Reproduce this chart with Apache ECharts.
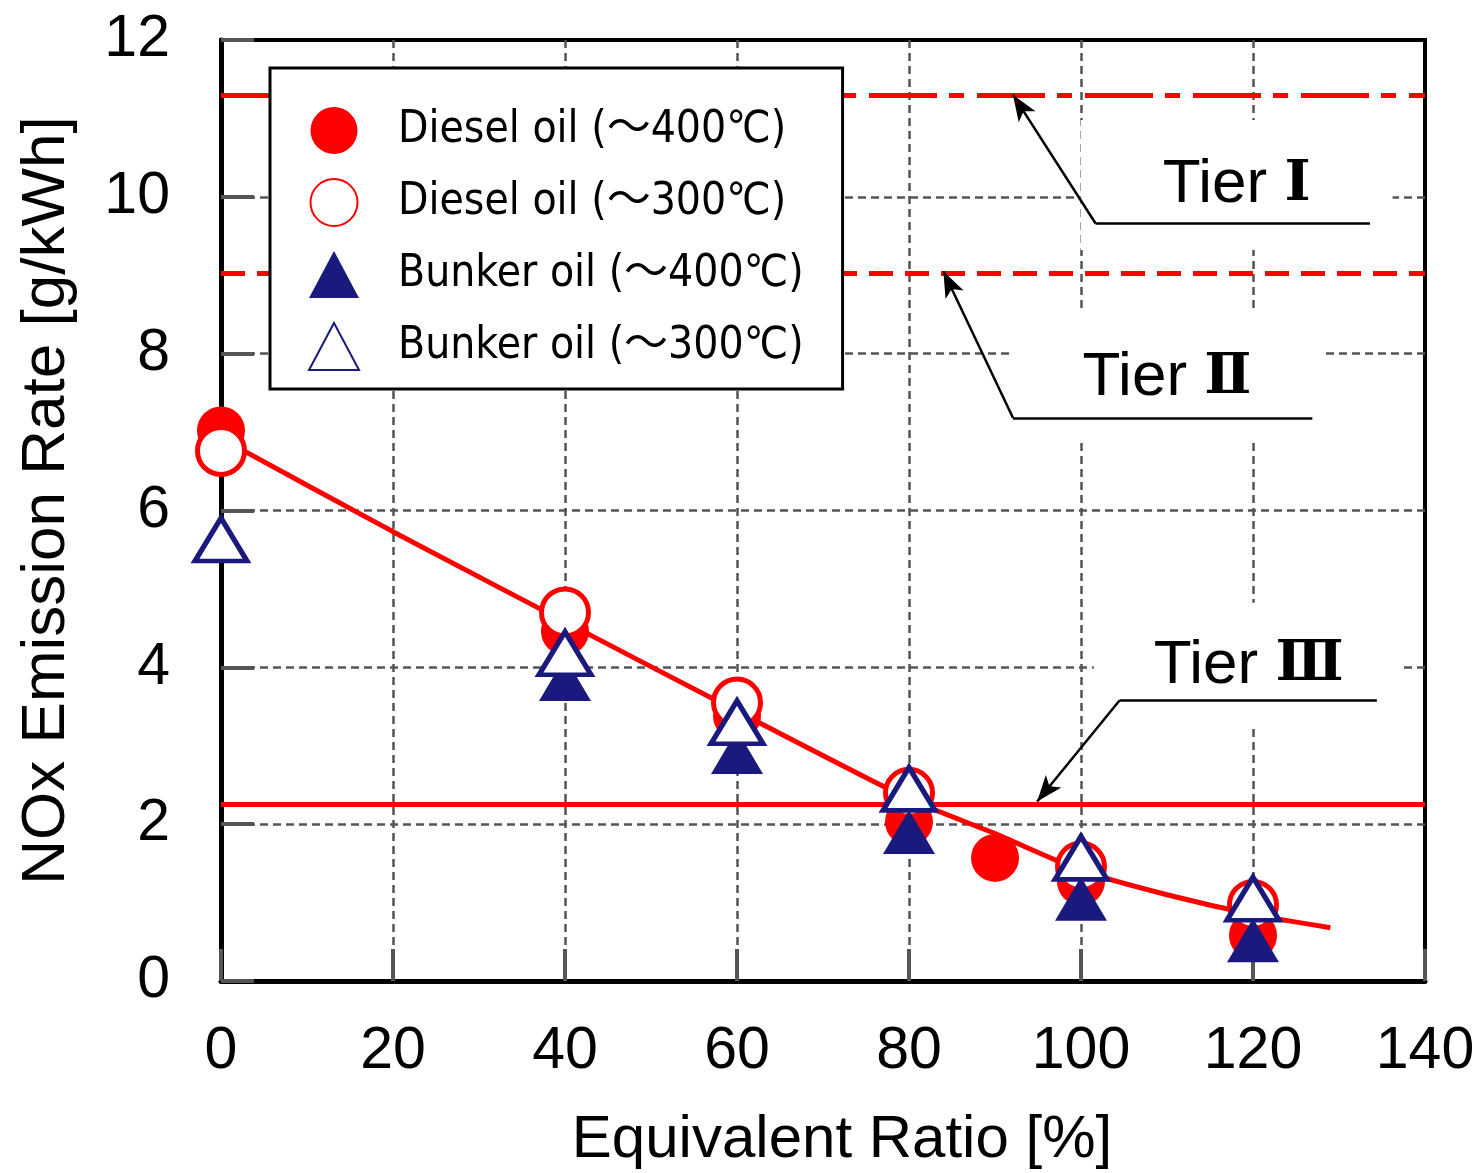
<!DOCTYPE html>
<html><head><meta charset="utf-8">
<script src="https://cdn.jsdelivr.net/npm/echarts@6/dist/echarts.min.js"></script>
<style>html,body{margin:0;padding:0;background:#fff}#c{width:1479px;height:1173px}</style>
</head><body><div id="c"></div>
<script>
// ---- data ----
const seriesNames = ['Diesel oil (～400℃)', 'Diesel oil (～300℃)', 'Bunker oil (～400℃)', 'Bunker oil (～300℃)'];
const diesel400 = [[0,7.02],[40,4.46],[60,3.38],[80,2.03],[90,1.57],[100,1.27],[120,0.58]];
const diesel300 = [[0,6.76],[40,4.70],[60,3.55],[80,2.40],[100,1.46],[120,0.97]];
const bunker400 = [[40,3.85],[60,2.92],[80,1.90],[100,1.05],[120,0.52]];
const bunker300 = [[0,5.63],[40,4.18],[60,3.30],[80,2.45],[100,1.57],[120,1.05]];
const fitCurve = [[0,6.92],[20,5.73],[40,4.58],[60,3.44],[80,2.32],[90,1.88],[100,1.41],[110,1.10],[120,0.85],[129,0.68]];
const tierLimits = [11.3, 9.02, 2.25];
const tierWords = ['Tier ', 'Tier ', 'Tier '];
const tierNumerals = ['Ⅰ', 'Ⅱ', 'Ⅲ'];
const tierLabelAt = [[118.1, 10.15], [110.0, 7.69], [119.5, 4.02]];
const tierElbow = [[101.7, 9.66], [92.1, 7.18], [104.5, 3.58]];
const tierShelfEnd = [[133.6, 9.66], [126.9, 7.18], [134.4, 3.58]];
const tierArrowTip = [[92.1, 11.30], [84.0, 9.05], [94.9, 2.29]];
const xTicks = [0, 20, 40, 60, 80, 100, 120, 140];
const yTicks = [0, 2, 4, 6, 8, 10, 12];
const xTitle = 'Equivalent Ratio [%]';
const yTitle = 'NOx Emission Rate [g/kWh]';

const RED = '#ff0000', NAVY = '#1a1a7e';
const AX_FONT = 'Liberation Sans, Arial, sans-serif';
const LEG_FONT = 'Liberation Sans Narrow, DejaVu Sans Condensed, Noto Sans CJK JP, sans-serif';
const labelPads = [[34, 82], [34, 73], [32, 60]];

const chart = echarts.init(document.getElementById('c'), null, {renderer: 'canvas'});

const leaderData = [];
for (let i = 0; i < tierElbow.length; i++) {
  leaderData.push([{coord: tierElbow[i], symbol: 'none'}, {coord: tierShelfEnd[i], symbol: 'none'}]);
  leaderData.push([{coord: tierElbow[i], symbol: 'none'}, {coord: tierArrowTip[i], symbol: 'arrow', symbolSize: [15, 26]}]);
}
const tierLineStyles = [
  {type: [68, 12, 15, 13], width: 5},
  {type: [24, 12], width: 5},
  {type: 'solid', width: 5}
];

const option = {
  backgroundColor: '#fff',
  animation: false,
  grid: {left: 221, top: 40, right: 54, bottom: 192, containLabel: false, outerBoundsMode: 'none',
         show: true, borderColor: '#000', borderWidth: 4, backgroundColor: 'transparent'},
  xAxis: {
    type: 'value', min: xTicks[0], max: xTicks[xTicks.length - 1], interval: xTicks[1] - xTicks[0],
    name: xTitle, nameLocation: 'middle', nameGap: 129,
    nameTextStyle: {fontSize: 60, fontFamily: AX_FONT, color: '#000', padding: [0, 0, 0, 38]},
    axisLine: {show: true, lineStyle: {color: '#000', width: 5}},
    axisTick: {show: true, inside: true, length: 32, lineStyle: {color: '#555', width: 4}},
    axisLabel: {fontSize: 59, fontFamily: AX_FONT, color: '#000', margin: 41},
    splitLine: {show: true, showMinLine: false, showMaxLine: false, lineStyle: {color: '#555', width: 2.5, type: [8, 5]}}
  },
  yAxis: {
    type: 'value', min: yTicks[0], max: yTicks[yTicks.length - 1], interval: yTicks[1] - yTicks[0],
    name: yTitle, nameLocation: 'middle', nameGap: 143,
    nameTextStyle: {fontSize: 62, fontFamily: AX_FONT, color: '#000', padding: [0, 0, 0, 20]},
    axisLine: {show: true, lineStyle: {color: '#000', width: 5}},
    axisTick: {show: true, inside: true, length: 33, lineStyle: {color: '#555', width: 4}},
    axisLabel: {fontSize: 59, fontFamily: AX_FONT, color: '#000', margin: 51},
    splitLine: {show: true, showMinLine: false, showMaxLine: false, lineStyle: {color: '#555', width: 2.5, type: [8, 5]}}
  },
  legend: {
    orient: 'vertical', left: 270, top: 68, z: 20,
    backgroundColor: '#fff', borderColor: '#000', borderWidth: 3,
    padding: [39, 39, 18, 38], itemGap: 24, itemWidth: 50, itemHeight: 47,
    textStyle: {fontSize: 44, fontFamily: LEG_FONT, color: '#000', padding: [0, 0, 0, 34]},
    data: seriesNames.slice()
  },
  series: [
    {
      name: 'fit', type: 'line', data: fitCurve, smooth: 0.2, showSymbol: false, z: 2,
      lineStyle: {color: RED, width: 5}, silent: true,
      markLine: {
        z: 1, silent: true, symbol: 'none', label: {show: false},
        data: tierLimits.map((v, i) => ({yAxis: v, lineStyle: Object.assign({color: RED}, tierLineStyles[i])}))
      }
    },
    {
      name: seriesNames[0], type: 'scatter', data: diesel400, symbol: 'circle', symbolSize: 48, z: 3,
      itemStyle: {color: RED, borderWidth: 0, opacity: 1}
    },
    {
      name: seriesNames[1], type: 'scatter', data: diesel300, symbol: 'circle', symbolSize: 47, z: 4,
      itemStyle: {color: '#fff', borderColor: RED, borderWidth: 5, opacity: 1}
    },
    {
      name: seriesNames[2], type: 'scatter', data: bunker400, symbol: 'triangle', symbolSize: [52, 44], z: 5,
      itemStyle: {color: NAVY, borderWidth: 0, opacity: 1}
    },
    {
      name: seriesNames[3], type: 'scatter', data: bunker300, symbol: 'triangle', symbolSize: [52, 43], z: 6,
      itemStyle: {color: '#fff', borderColor: NAVY, borderWidth: 5, opacity: 1}
    },
    {
      name: 'tierLabels', type: 'scatter', z: 7, silent: true, symbolSize: 1,
      itemStyle: {color: 'rgba(0,0,0,0)', opacity: 1},
      data: tierLabelAt.map((p, i) => ({value: p, label: {padding: labelPads[i]}})),
      label: {
        show: true, position: 'inside', backgroundColor: '#fff', opacity: 1,
        formatter: (p) => '{t|' + tierWords[p.dataIndex] + '}{n|' + tierNumerals[p.dataIndex] + '}',
        rich: {
          t: {fontSize: 62, fontFamily: AX_FONT, color: '#000'},
          n: {fontSize: 56, fontFamily: 'DejaVu Serif, Noto Serif CJK JP, Noto Sans CJK JP, serif', fontWeight: 'bold', color: '#000'}
        }
      }
    },
    {
      name: 'leaders', type: 'line', data: [], z: 9, silent: true,
      markLine: {
        z: 12, silent: true, label: {show: false},
        lineStyle: {color: '#000', width: 2.5, type: 'solid'},
        itemStyle: {color: '#000'},
        data: leaderData
      }
    }
  ]
};
chart.setOption(option);
</script>
</body></html>
